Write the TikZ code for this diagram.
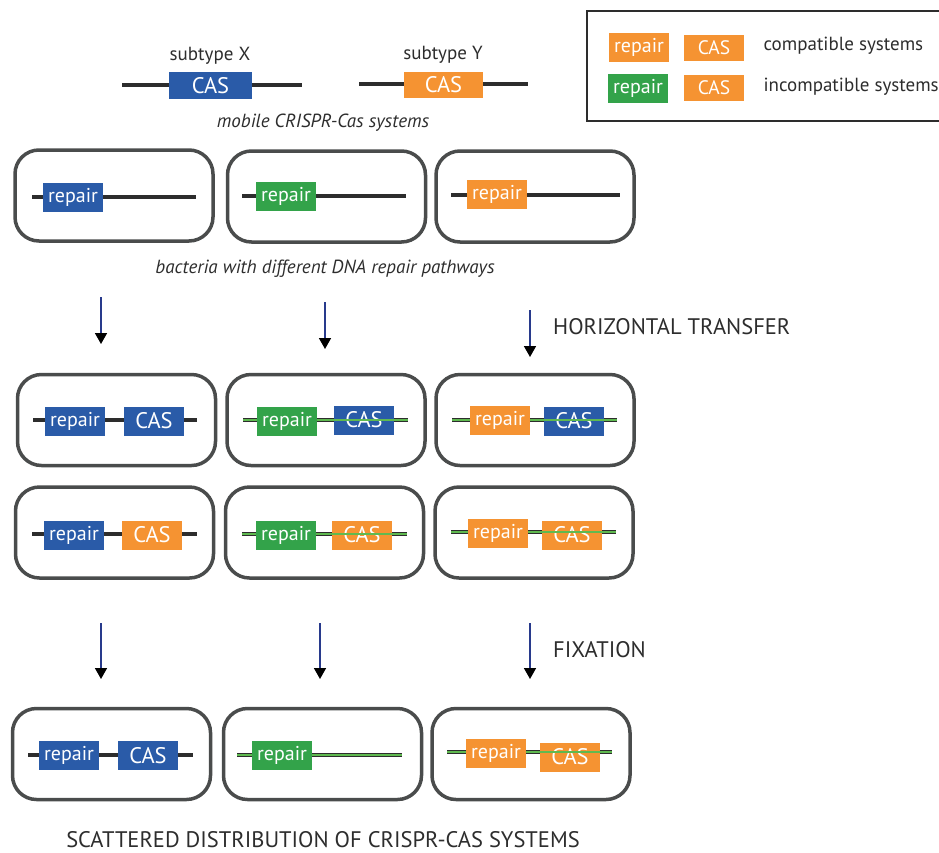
\documentclass[tikz,border=0pt]{standalone}
\usepackage{fontspec}
\setmainfont{PT Sans}
\usepackage{tikz}
\usetikzlibrary{arrows.meta, positioning}
\definecolor{cdark}{RGB}{45,45,45}
\definecolor{cellgray}{RGB}{74,76,76}
\definecolor{repblue}{RGB}{42,91,168}
\definecolor{repgreen}{RGB}{51,163,74}
\definecolor{reporange}{RGB}{245,147,50}
\definecolor{arrowblue}{RGB}{40,58,140}
\definecolor{linegreen}{RGB}{95,185,80}
\tikzstyle{cell} = [rectangle, draw=cellgray, line width=3.5pt, rounded corners=24pt, minimum width=198pt, minimum height=91pt]
\tikzstyle{gene} = [rectangle, minimum width=60pt, minimum height=29pt, inner sep=0pt, text=white, font=\fontsize{20}{20}\selectfont]
\tikzstyle{casbox} = [gene, font=\fontsize{22.5}{22.5}\selectfont]
\tikzstyle{dna} = [line width=4.5pt, draw=cdark]
\tikzstyle{mismatch} = [line width=1.2pt, draw=linegreen]
\tikzstyle{arrow} = [draw=arrowblue, line width=1.6pt, -{Triangle[length=11pt, width=12pt, color=black]}]
\tikzstyle{caption} = [text=cdark, font=\fontsize{19}{19}\selectfont\itshape]
\tikzstyle{stage} = [text=cdark, anchor=base west, inner sep=0pt, font=\fontsize{22.5}{22.5}\selectfont]
\tikzstyle{plain} = [text=cdark, font=\fontsize{19}{19}\selectfont]

\begin{document}
\begin{tikzpicture}[x=1pt, y=-1pt]
    \useasboundingbox (0,0) rectangle (939,852);

    % Legend
    \node[draw=cdark, line width=2pt, minimum width=359pt, minimum height=110pt, inner sep=0pt] (legend) at (766,65.5) {};
    \node[gene, fill=reporange] (lrep1) at (639,47.5) {repair};
    \node[casbox, fill=reporange, minimum height=26pt, font=\fontsize{19.5}{19.5}\selectfont] (lcas1) at (714,48) {CAS};
    \node[plain, anchor=west] (lcomp) at (760,46) {compatible systems};
    \node[gene, fill=repgreen] (lrep2) at (638,88) {repair};
    \node[casbox, fill=reporange, minimum height=26pt, font=\fontsize{19.5}{19.5}\selectfont] (lcas2) at (714,88) {CAS};
    \node[plain, anchor=west] (lincomp) at (760,87) {incompatible systems};

    % Mobile CRISPR-Cas systems
    \coordinate (mxa) at (122,85);
    \coordinate (mxb) at (302,85);
    \draw[dna] (mxa) -- (mxb);
    \node[casbox, fill=repblue, minimum width=83pt, minimum height=27pt] (casx) at (210.5,85.5) {CAS};
    \node[plain] (subx) at (210,56) {subtype X};
    \coordinate (mya) at (359,84);
    \coordinate (myb) at (528,84);
    \draw[dna] (mya) -- (myb);
    \node[casbox, fill=reporange, minimum width=79pt, minimum height=26pt] (casy) at (443.5,85) {CAS};
    \node[plain] (suby) at (443,55) {subtype Y};
    \node[caption] (mobile) at (323,123) {mobile CRISPR-Cas systems};

    % Bacteria with different repair pathways
    \node[cell] (c1a) at (114,195.5) {};
    \node[cell] (c2a) at (326.5,196.5) {};
    \node[cell] (c3a) at (535,196.5) {};
    \coordinate (d1a) at (32,197);  \coordinate (e1a) at (196,197);
    \coordinate (d2a) at (242,196); \coordinate (e2a) at (406,196);
    \coordinate (d3a) at (451,195); \coordinate (e3a) at (620,195);
    \draw[dna] (d1a) -- (e1a);
    \draw[dna] (d2a) -- (e2a);
    \draw[dna] (d3a) -- (e3a);
    \node[gene, fill=repblue] (r1a) at (73,197) {repair};
    \node[gene, fill=repgreen] (r2a) at (286,196) {repair};
    \node[gene, fill=reporange] (r3a) at (497,194.5) {repair};
    \node[caption] (bacteria) at (325,269) {bacteria with different DNA repair pathways};

    % Horizontal transfer
    \coordinate (h1s) at (101,297); \coordinate (h1e) at (101,344);
    \coordinate (h2s) at (325,302); \coordinate (h2e) at (325,349);
    \coordinate (h3s) at (530,310); \coordinate (h3e) at (530,357);
    \draw[arrow] (h1s) -- (h1e);
    \draw[arrow] (h2s) -- (h2e);
    \draw[arrow] (h3s) -- (h3e);
    \node[stage] (htrans) at (553,334) {HORIZONTAL TRANSFER};

    % After transfer, subtype X
    \node[cell] (c1b) at (116.5,420) {};
    \node[cell] (c2b) at (326,420) {};
    \node[cell] (c3b) at (535,420) {};
    \coordinate (d1b) at (33,420);  \coordinate (e1b) at (197,420);
    \coordinate (d2b) at (243,420); \coordinate (e2b) at (408,420);
    \coordinate (d3b) at (452,420); \coordinate (e3b) at (617,420);
    \draw[dna] (d1b) -- (e1b);
    \draw[dna] (d2b) -- (e2b);
    \draw[dna] (d3b) -- (e3b);
    \node[casbox, fill=repblue] (x1b) at (154,421) {CAS};
    \node[casbox, fill=repblue] (x2b) at (364,420) {CAS};
    \node[casbox, fill=repblue] (x3b) at (574,421) {CAS};
    \draw[mismatch] (d2b) -- (e2b);
    \draw[mismatch] (d3b) -- (e3b);
    \node[gene, fill=repblue] (r1b) at (75,421) {repair};
    \node[gene, fill=repgreen] (r2b) at (287,421) {repair};
    \node[gene, fill=reporange] (r3b) at (500,420) {repair};

    % After transfer, subtype Y
    \node[cell] (c1c) at (114.5,532.5) {};
    \node[cell] (c2c) at (324.5,532.5) {};
    \node[cell] (c3c) at (534,532.5) {};
    \coordinate (d1c) at (32,534);  \coordinate (e1c) at (197,534);
    \coordinate (d2c) at (242,534); \coordinate (e2c) at (407,534);
    \coordinate (d3c) at (451,532); \coordinate (e3c) at (616,532);
    \draw[dna] (d1c) -- (e1c);
    \draw[dna] (d2c) -- (e2c);
    \draw[dna] (d3c) -- (e3c);
    \node[casbox, fill=reporange] (y1c) at (152,535) {CAS};
    \node[casbox, fill=reporange] (y2c) at (362,535) {CAS};
    \node[casbox, fill=reporange] (y3c) at (572,535) {CAS};
    \draw[mismatch] (d2c) -- (e2c);
    \draw[mismatch] (d3c) -- (e3c);
    \node[gene, fill=repblue] (r1c) at (74,535) {repair};
    \node[gene, fill=repgreen] (r2c) at (286,535) {repair};
    \node[gene, fill=reporange] (r3c) at (498,533) {repair};

    % Fixation
    \coordinate (f1s) at (101,623); \coordinate (f1e) at (101,679);
    \coordinate (f2s) at (320,623); \coordinate (f2e) at (320,679);
    \coordinate (f3s) at (530,623); \coordinate (f3e) at (530,679);
    \draw[arrow] (f1s) -- (f1e);
    \draw[arrow] (f2s) -- (f2e);
    \draw[arrow] (f3s) -- (f3e);
    \node[stage] (fixation) at (553,657) {FIXATION};

    % Scattered distribution
    \node[cell] (c1d) at (111.5,754) {};
    \node[cell] (c2d) at (322.5,754) {};
    \node[cell] (c3d) at (531,754) {};
    \coordinate (d1d) at (28,755);  \coordinate (e1d) at (193,755);
    \coordinate (d2d) at (237,755); \coordinate (e2d) at (402,755);
    \coordinate (d3d) at (447,752); \coordinate (e3d) at (612,752);
    \draw[dna] (d1d) -- (e1d);
    \draw[dna] (d2d) -- (e2d);
    \draw[dna] (d3d) -- (e3d);
    \node[casbox, fill=repblue] (x1d) at (148,755.5) {CAS};
    \node[casbox, fill=reporange] (y3d) at (570,757) {CAS};
    \draw[mismatch] (d2d) -- (e2d);
    \draw[mismatch] (d3d) -- (e3d);
    \node[gene, fill=repblue] (r1d) at (69,755.5) {repair};
    \node[gene, fill=repgreen] (r2d) at (282,755) {repair};
    \node[gene, fill=reporange] (r3d) at (496,753) {repair};
    \node[stage, anchor=base] (scatter) at (323,847) {SCATTERED DISTRIBUTION OF CRISPR-CAS SYSTEMS};
\end{tikzpicture}
\end{document}
